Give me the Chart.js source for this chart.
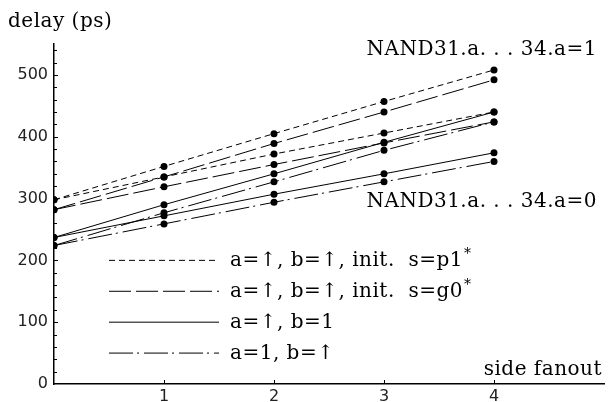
<!DOCTYPE html>
<html>
<head>
<meta charset="utf-8">
<script src="https://cdn.jsdelivr.net/npm/chart.js@4.4.1/dist/chart.umd.min.js"></script>
<style>
  html, body { margin: 0; padding: 0; background: #fff; }
  #wrap { width: 608px; height: 402px; }
</style>
</head>
<body>
<div id="wrap"><canvas id="delayChart" width="608" height="402"></canvas></div>
<script>
// side fanout on x, delay (ps) on y
const fanout = [0, 1, 2, 3, 4];

// upper bundle: NAND31.a...34.a=1
const p1HighDelay   = [298, 352, 405, 457, 508];
const g0HighDelay   = [282, 335, 389, 440, 492];
const bOneHighDelay = [237, 290, 340, 391, 440];
const aOneHighDelay = [224, 277, 327, 378, 424];

// lower bundle: NAND31.a...34.a=0
const p1LowDelay   = [298, 335, 372, 406, 440];
const g0LowDelay   = [282, 319, 355, 390, 424];
const bOneLowDelay = [237, 272, 307, 340, 374];
const aOneLowDelay = [224, 259, 294, 327, 360];

const legendLabels = ['a=\u2191, b=\u2191, init.  s=p1', 'a=\u2191, b=\u2191, init.  s=g0', 'a=\u2191, b=1', 'a=1, b=\u2191'];
const legendStars = [true, true, false, false];
const xTickLabels = ['1', '2', '3', '4'];
const bundleLabels = ['NAND31.a. . . 34.a=1', 'NAND31.a. . . 34.a=0'];

const DASH = {
  p1: [6, 4],
  g0: [22, 5],
  b1: [],
  a1: [24, 4, 2, 5]
};
const SERIF = '"DejaVu Serif", serif';
const SANS = '"DejaVu Sans", sans-serif';

function lineSet(values, dash) {
  return {
    data: fanout.map((x, i) => ({ x, y: values[i] })),
    showLine: true,
    borderColor: '#000',
    borderWidth: 1,
    borderDash: dash,
    pointRadius: 3.5,
    pointBackgroundColor: '#000',
    pointBorderWidth: 0,
    fill: false
  };
}

const datasets = [
  lineSet(p1HighDelay, DASH.p1),
  lineSet(g0HighDelay, DASH.g0),
  lineSet(bOneHighDelay, DASH.b1),
  lineSet(aOneHighDelay, DASH.a1),
  lineSet(p1LowDelay, DASH.p1),
  lineSet(g0LowDelay, DASH.g0),
  lineSet(bOneLowDelay, DASH.b1),
  lineSet(aOneLowDelay, DASH.a1)
];

function text(ctx, str, x, y, size, align) {
  ctx.font = size + 'px ' + SERIF;
  ctx.letterSpacing = '0.5px';
  ctx.textAlign = align || 'left';
  ctx.textBaseline = 'alphabetic';
  ctx.fillText(str, x, y);
  return ctx.measureText(str).width;
}

// ticks drawn inward, legend and free labels
const decorations = {
  id: 'decorations',
  afterDraw(chart) {
    const { ctx, chartArea } = chart;
    const xs = chart.scales.x;
    const ys = chart.scales.y;
    ctx.save();
    ctx.strokeStyle = '#000';
    ctx.lineWidth = 1;

    for (let v = 20; v < 550; v += 20) {
      const y = Math.round(ys.getPixelForValue(v)) + 0.5;
      ctx.beginPath();
      ctx.moveTo(chartArea.left, y);
      ctx.lineTo(chartArea.left + (v % 100 === 0 ? 4 : 3), y);
      ctx.stroke();
    }
    for (let v = 1; v <= 4; v++) {
      const x = Math.round(xs.getPixelForValue(v)) + 0.5;
      ctx.beginPath();
      ctx.moveTo(x, chartArea.bottom);
      ctx.lineTo(x, chartArea.bottom - 4);
      ctx.stroke();
    }

    // legend, anchored in data units
    const dashes = [DASH.p1, DASH.g0, DASH.b1, DASH.a1];
    legendLabels.forEach((label, i) => {
      const y = ys.getPixelForValue(200 - 50 * i);
      ctx.setLineDash(dashes[i]);
      ctx.beginPath();
      ctx.moveTo(xs.getPixelForValue(0.5), y);
      ctx.lineTo(xs.getPixelForValue(1.5), y);
      ctx.stroke();
      ctx.setLineDash([]);
      ctx.fillStyle = '#000';
      const tx = xs.getPixelForValue(1.6);
      const w = text(ctx, label, tx, y + 6, 20);
      if (legendStars[i]) text(ctx, '*', tx + w + 1, y - 2, 14);
    });

    ctx.fillStyle = '#000';
    text(ctx, 'delay (ps)', 8, 27, 20);
    text(ctx, bundleLabels[0], 597, 55, 20, 'right');
    text(ctx, bundleLabels[1], 597, 207, 20, 'right');
    text(ctx, 'side fanout', 602, 375, 20, 'right');
    ctx.restore();
  }
};

new Chart(document.getElementById('delayChart').getContext('2d'), {
  type: 'scatter',
  data: { datasets },
  options: {
    responsive: false,
    animation: false,
    layout: { padding: { top: 44, right: 2, left: 0, bottom: 0 } },
    plugins: { legend: { display: false }, tooltip: { enabled: false } },
    scales: {
      x: {
        type: 'linear',
        min: 0,
        max: 5,
        afterFit: s => { s.height = 18; },
        grid: { display: false, drawTicks: false },
        border: { display: true, color: '#000', width: 1.5 },
        ticks: {
          stepSize: 1,
          padding: 3,
          color: '#222',
          font: { family: SANS, size: 16 },
          callback: v => (v >= 1 && v <= 4 ? xTickLabels[v - 1] : '')
        }
      },
      y: {
        min: 0,
        max: 550,
        afterFit: s => { s.width = 54; },
        grid: { display: false, drawTicks: false },
        border: { display: true, color: '#000', width: 1.5 },
        ticks: {
          stepSize: 20,
          autoSkip: false,
          padding: 6,
          color: '#222',
          font: { family: SANS, size: 16 },
          callback: v => (v % 100 === 0 ? String(v) : '')
        }
      }
    }
  },
  plugins: [decorations]
});
</script>
</body>
</html>
